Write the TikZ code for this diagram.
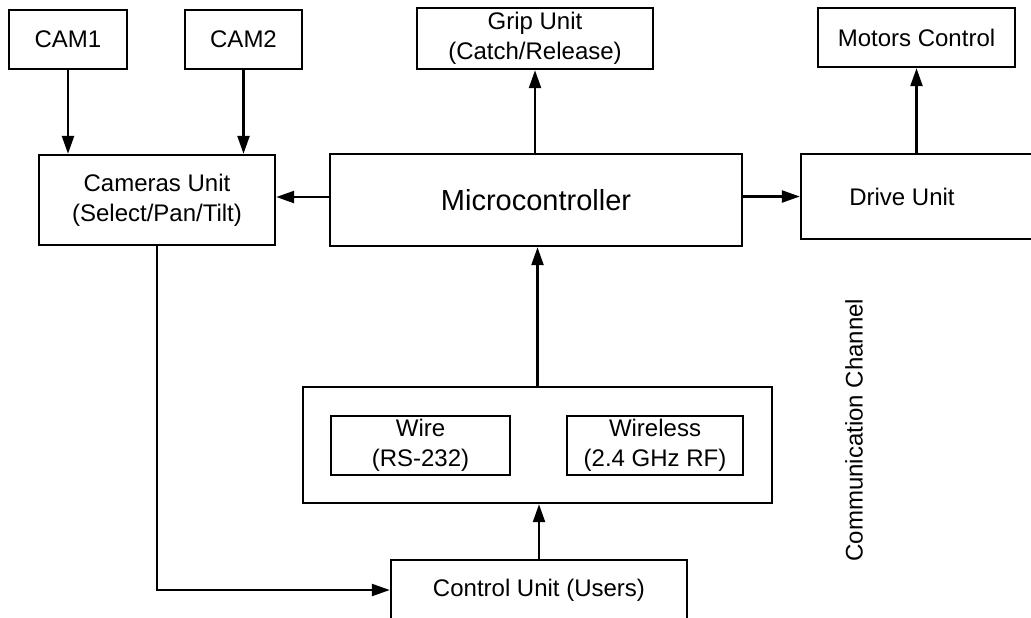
\documentclass[tikz,border=0pt]{standalone}
\usepackage{fontspec}
\setmainfont{Liberation Sans}
\usetikzlibrary{arrows.meta}

\begin{document}
\begin{tikzpicture}[x=0.5pt, y=-0.5pt, line width=1.2pt, >={Triangle[length=9pt, width=6pt]},
    font=\fontsize{12}{15}\selectfont,
    blk/.style={draw, rectangle, align=center, inner sep=0pt}]
  \useasboundingbox (0,0) rectangle (1031,617);
  \clip (0,0) rectangle (1031,617);
  % ---- cameras ----
  \node[blk, minimum width=59pt, minimum height=29.5pt] (cam1) at (68,39.5) {CAM1};
  \node[blk, minimum width=58.5pt, minimum height=29.5pt] (cam2) at (243.5,39.5) {CAM2};
  \node[blk, minimum width=118pt, minimum height=45pt] (cams) at (157,200) {Cameras Unit\\(Select/Pan/Tilt)};
  % ---- controller and actuators ----
  \node[blk, minimum width=206pt, minimum height=46pt, font=\fontsize{14.5}{17}\selectfont] (micro) at (536,200) {Microcontroller};
  \node[blk, minimum width=118pt, minimum height=30.5pt] (grip) at (535,38.5) {Grip Unit\\(Catch/Release)};
  \node[blk, minimum width=98.5pt, minimum height=29.5pt] (motors) at (916.5,37.5) {Motors Control};
  \node[blk, minimum width=120pt, minimum height=42.5pt, label={[xshift=-9.5pt]center:Drive Unit}] (drive) at (921,196.5) {};
  % ---- communication channel ----
  \node[blk, minimum width=234.5pt, minimum height=58pt] (comm) at (537.5,445) {};
  \node[blk, minimum width=89.5pt, minimum height=29.5pt] (wire) at (420.5,445.5) {Wire\\(RS-232)};
  \node[blk, minimum width=88pt, minimum height=29.5pt] (wireless) at (655,445.5) {Wireless\\(2.4 GHz RF)};
  \node[rotate=90] (chan) at (854,430) {Communication Channel};
  \node[blk, minimum width=148pt, minimum height=30pt] (ctrl) at (539,590) {Control Unit (Users)};
  % ---- connectors ----
  \draw[->] (cam1) -- (cam1 |- cams.north);
  \draw[->] (cam2) -- (cam2 |- cams.north);
  \draw[->] (micro.west |- 0,197) -- (cams.east |- 0,197);
  \draw[->] (micro.east |- drive.west) -- (drive.west);
  \draw[->] (micro.north -| grip) -- (grip.south);
  \draw[->] (motors.south |- drive.north) -- (motors.south);
  \draw[->] (comm.north) -- (comm.north |- micro.south);
  \draw[->] (ctrl.north) -- (ctrl.north |- comm.south);
  \draw[->] (cams.south) |- (ctrl.west);
\end{tikzpicture}
\end{document}
